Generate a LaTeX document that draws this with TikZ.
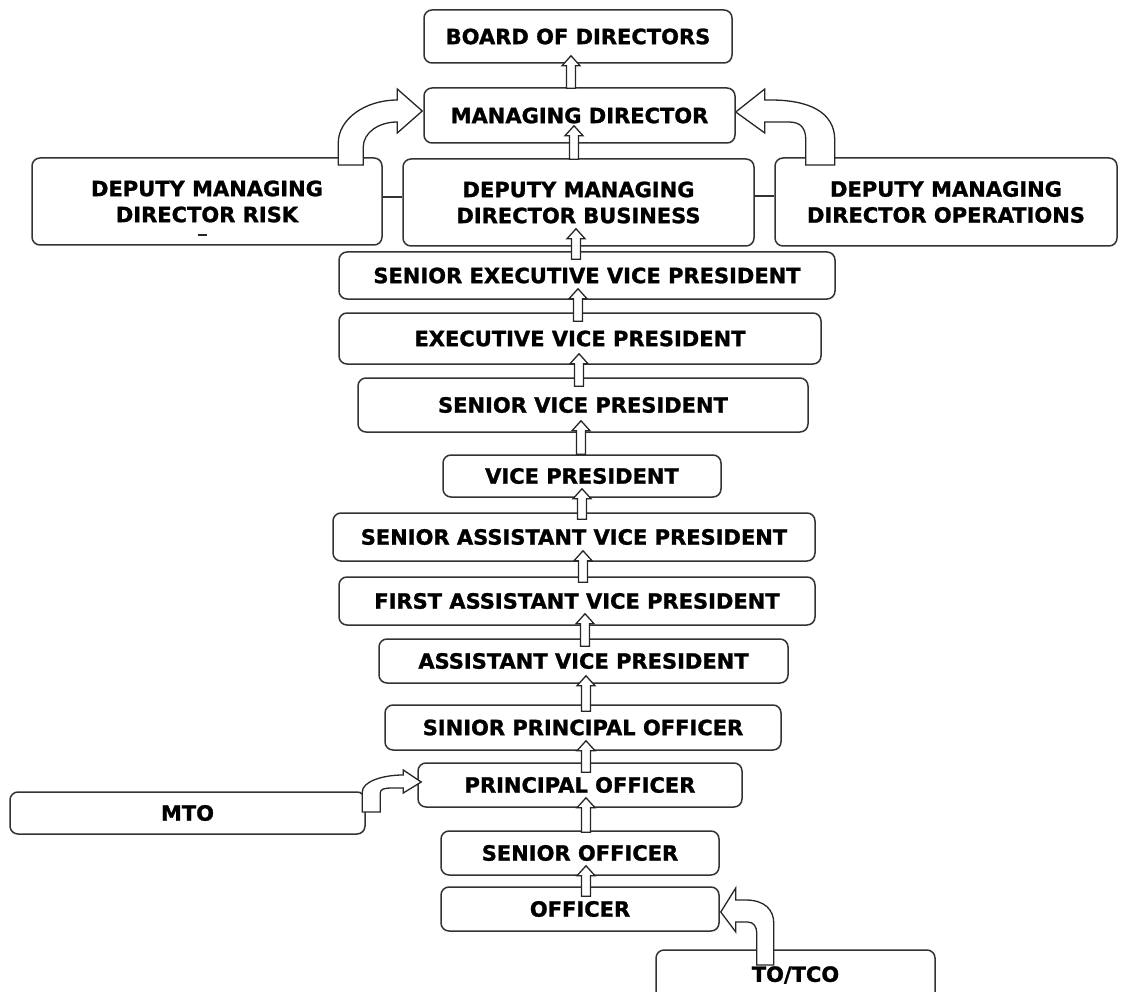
\documentclass[tikz,border=0pt]{standalone}
\usepackage{fontspec}
\setmainfont[BoldFeatures={FakeBold=1.2}]{DejaVu Sans}
\usetikzlibrary{calc}
\newcommand\uparr[5]{% #1 lower node, #2 upper node, #3 x, #4 depth into lower, #5 depth into upper
  \draw[arr] let \p1=(#1.north), \p2=(#2.south) in
    ({#3pt-4.5pt},{\y1-#4pt}) -- ({#3pt-4.5pt},{\y2+#5pt-10pt}) -- ({#3pt-9pt},{\y2+#5pt-10pt})
    -- ({#3pt},{\y2+#5pt}) -- ({#3pt+9pt},{\y2+#5pt-10pt}) -- ({#3pt+4.5pt},{\y2+#5pt-10pt})
    -- ({#3pt+4.5pt},{\y1-#4pt}) -- cycle;}
\begin{document}
\begin{tikzpicture}[x=1pt,y=-1pt,
  box/.style={draw=black!80, line width=1.5pt, rounded corners=8pt, fill=white,
    inner sep=0pt, font=\fontsize{21}{26}\selectfont\bfseries, align=center},
  arr/.style={draw=black!85, line width=1.3pt, fill=white, line join=miter},
  link/.style={draw=black!80, line width=1.5pt}]
\useasboundingbox (0,0) rectangle (1121,992);
\clip (0,0) rectangle (1121,992);

\node[box, minimum width=308pt, minimum height=53pt] (board) at (578,36.5) {BOARD OF DIRECTORS};
\node[box, minimum width=311pt, minimum height=55pt] (md) at (579.5,115.5) {MANAGING DIRECTOR};
\node[box, minimum width=350pt, minimum height=87pt] (risk) at (207,201.5) {DEPUTY MANAGING\\DIRECTOR RISK};
\node[box, minimum width=351pt, minimum height=87pt] (bus) at (578.5,202.5) {DEPUTY MANAGING\\DIRECTOR BUSINESS};
\node[box, minimum width=342pt, minimum height=88pt] (ops) at (946,202) {DEPUTY MANAGING\\DIRECTOR OPERATIONS};
\node[box, minimum width=496pt, minimum height=47pt] (sevp) at (587,275.5) {SENIOR EXECUTIVE VICE PRESIDENT};
\node[box, minimum width=482pt, minimum height=51pt] (evp) at (580,338.5) {EXECUTIVE VICE PRESIDENT};
\node[box, minimum width=450pt, minimum height=54pt] (svp) at (583,405) {SENIOR VICE PRESIDENT};
\node[box, minimum width=278pt, minimum height=42pt] (vp) at (582,476) {VICE PRESIDENT};
\node[box, minimum width=482pt, minimum height=48pt] (savp) at (574,537) {SENIOR ASSISTANT VICE PRESIDENT};
\node[box, minimum width=476pt, minimum height=48pt] (favp) at (577,601) {FIRST ASSISTANT VICE PRESIDENT};
\node[box, minimum width=409pt, minimum height=44pt] (avp) at (583.5,661) {ASSISTANT VICE PRESIDENT};
\node[box, minimum width=396pt, minimum height=45pt] (spo) at (583,727.5) {SINIOR PRINCIPAL OFFICER};
\node[box, minimum width=324pt, minimum height=44pt] (po) at (580,785) {PRINCIPAL OFFICER};
\node[box, minimum width=278pt, minimum height=44pt] (so) at (580,853) {SENIOR OFFICER};
\node[box, minimum width=278pt, minimum height=44pt] (off) at (580,909) {OFFICER};
\node[box, minimum width=355pt, minimum height=42pt] (mto) at (187.5,813) {MTO};
\node[box, minimum width=279pt, minimum height=50pt] (to) at (795.5,975) {TO/TCO};

% clipped remnant of a third text line in the risk box
\draw[line width=2pt, black!85] (198,235) -- (207,235);

% horizontal links between the deputy managing directors
\draw[link] ([yshift=4.5pt]risk.east) -- ([yshift=5.5pt]bus.west);
\draw[link] ([yshift=6.5pt]bus.east) -- ([yshift=6pt]ops.west);

% vertical block arrows
\uparr{md}{board}{571}{1}{8}
\uparr{bus}{md}{574}{1}{18}
\uparr{sevp}{bus}{576}{8}{18}
\uparr{evp}{sevp}{578}{9}{11}
\uparr{svp}{evp}{579}{9}{11}
\uparr{vp}{svp}{581}{0}{12}
\uparr{savp}{vp}{582}{7}{9}
\uparr{favp}{savp}{583}{6}{11}
\uparr{avp}{favp}{585}{8}{12}
\uparr{spo}{avp}{586}{7}{8}
\uparr{po}{spo}{586}{10}{10}
\uparr{so}{po}{586}{2}{10}
\uparr{off}{so}{586}{10}{10}

% bent arrow: risk -> managing director
\begin{scope}[shift={($(md.west)+(-1,-4.5)$)}]
  \draw[arr] (-84,54) -- (-84,32) .. controls (-84,8) and (-57,-11) .. (-25,-11)
    -- (-25,-22) -- (0,0) -- (-25,22) -- (-25,11)
    .. controls (-44,11) and (-59,22) .. (-59,36) -- (-59,54) -- cycle;
\end{scope}
% bent arrow: operations -> managing director
\begin{scope}[shift={($(md.east)+(0,-3.5)$)}]
  \draw[arr] (99,53) -- (99,28) .. controls (99,0) and (73,-12) .. (35,-12) -- (29,-12)
    -- (29,-23) -- (0,0) -- (29,21) -- (29,10) -- (53,10)
    .. controls (65,10) and (70,16) .. (70,28) -- (70,53) -- cycle;
\end{scope}
% bent arrow: MTO -> principal officer
\begin{scope}[shift={($(po.west)+(4,-3)$)}]
  \draw[arr] (-59,30) -- (-59,10) .. controls (-59,0) and (-40,-7) .. (-18,-7)
    -- (-18,-12) -- (0,0) -- (-18,11) -- (-18,6) -- (-29,6)
    .. controls (-37,6) and (-41,7) .. (-41,11) -- (-41,30) -- cycle;
\end{scope}
% bent arrow: TO/TCO -> officer
\begin{scope}[shift={($(off.east)+(1,3)$)}]
  \draw[arr] (53,53) -- (53,11) .. controls (53,-2) and (44,-12) .. (25,-12) -- (15,-12)
    -- (15,-24) -- (0,0) -- (15,20) -- (15,10) -- (27,10)
    .. controls (33,10) and (36,15) .. (36,21) -- (36,53) -- cycle;
\end{scope}
\end{tikzpicture}
\end{document}
